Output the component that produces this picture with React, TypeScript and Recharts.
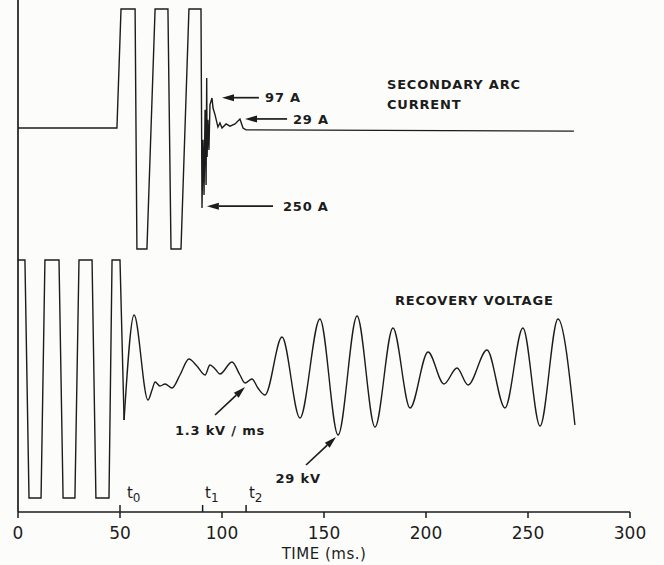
import { LineChart, Line, XAxis, YAxis, ReferenceLine, ReferenceDot, Label } from "recharts"

// time in ms, current in A
const currentTrace: [number, number][] = [
  [0, 0], [48.5, 0], [50.5, 381], [57.4, 381], [58.3, -387], [63.2, -387],
  [67.2, 381], [73.5, 381], [75.0, -387], [79.9, -387], [83.8, 381], [89.7, 381],
  [90.2, -256], [90.7, -38], [91.2, -214], [91.7, 58], [92.2, -182], [92.5, 160],
  [92.7, -93], [93.1, 26], [93.6, -70], [94.1, 74], [95.1, 96], [95.6, 64],
  [96.6, 42], [98.0, 3], [99.0, 16], [100, 0], [102, 13], [103.9, 6],
  [106.4, 13], [108.8, 29], [110.3, 0], [111.8, -6], [272.5, -10],
]

// recovery voltage, kV: clipped square wave before t0
const voltageSquare: [number, number][] = [
  [0, 58.5], [3.4, 58.5], [5.4, -60.5], [11.3, -60.5], [13.2, 58.5], [20.1, 58.5],
  [22.1, -60.5], [27.9, -60.5], [29.9, 58.5], [36.3, 58.5], [38.2, -60.5], [44.6, -60.5],
  [46.1, 58.5], [50.0, 58.5], [52.0, -21.5],
]

// recovery voltage after t0
const voltageWave: [number, number][] = [
  [52.0, -21.5], [56.9, 31], [63.7, -11.5], [65.7, -6.5], [67.2, -2.5], [69.6, -4.5],
  [72.1, -3.5], [75.5, -5.5], [79.4, 1], [83.8, 9], [87.7, 5.5], [91.7, 1],
  [94.1, 6], [96.6, 4], [99.0, 1.5], [104.9, 7.5], [108.8, 1], [111.3, -3],
  [114.7, -1], [117.6, -5.5], [121.1, -9], [129.4, 20], [138.2, -20.5], [148.0, 29],
  [156.9, -29], [166.2, 30.5], [175.0, -25], [183.8, 24.5], [192.2, -15.5], [201.0, 12.5],
  [208.8, -3.5], [215.2, 4.5], [220.6, -4], [229.9, 13.5], [238.7, -15.5], [247.5, 24.5],
  [255.9, -24.5], [264.7, 29], [273.0, -24],
]

const timeTicks = [0, 50, 100, 150, 200, 250, 300]
const markers = [
  { t: 50, name: "0", labelT: 53.4 },
  { t: 90.5, name: "1", labelT: 91.7 },
  { t: 111.8, name: "2", labelT: 113.2 },
]

const INK = "#1c1c1c"
const FONT = "'DejaVu Sans', sans-serif"

const toRows = (pts: [number, number][]) => pts.map(([t, v]) => ({ t, v }))

function Arrow(props: any) {
  const { x1, y1, x2, y2 } = props
  const ang = Math.atan2(y2 - y1, x2 - x1)
  const len = 12
  const half = 3.5
  const bx = x2 - len * Math.cos(ang)
  const by = y2 - len * Math.sin(ang)
  const px = -Math.sin(ang) * half
  const py = Math.cos(ang) * half
  return (
    <g>
      <line x1={x1} y1={y1} x2={bx} y2={by} stroke={INK} strokeWidth={1.7} />
      <polygon points={`${x2},${y2} ${bx + px},${by + py} ${bx - px},${by - py}`} fill={INK} />
    </g>
  )
}

const note = (text: string, anchor: "start" | "middle" = "start") => (p: any) => (
  <text
    x={p.cx}
    y={p.cy}
    dy="0.36em"
    textAnchor={anchor}
    fontFamily={FONT}
    fontSize={13}
    fontWeight="bold"
    letterSpacing={0.8}
    fill={INK}
  >
    {text}
  </text>
)

const subT = (n: string) => (p: any) => (
  <text x={p.cx} y={p.cy} dy="0.36em" fontFamily={FONT} fontSize={15} fill={INK}>
    t<tspan dy={4} fontSize={12}>{n}</tspan>
  </text>
)

export default function App() {
  return (
    <div style={{ position: "absolute", left: 0, top: 0, width: 664, height: 565, background: "#fcfcfb" }}>
      <LineChart width={664} height={565} margin={{ top: 0, right: 34, bottom: 13, left: 0 }}>
        <XAxis
          type="number"
          dataKey="t"
          domain={[0, 300]}
          ticks={timeTicks}
          interval={0}
          allowDataOverflow
          axisLine={{ stroke: INK, strokeWidth: 1.7 }}
          tickLine={{ stroke: INK, strokeWidth: 1.5 }}
          tickSize={6}
          tickMargin={9}
          height={40}
          tick={{ fill: INK, fontSize: 17, fontFamily: FONT }}
        >
          <Label
            value="TIME (ms.)"
            position="insideBottom"
            offset={-7}
            fill={INK}
            fontSize={15}
            fontFamily={FONT}
            letterSpacing={0.5}
          />
        </XAxis>
        <YAxis
          yAxisId="v"
          type="number"
          domain={[-67.5, 188.5]}
          width={18}
          tick={false}
          tickLine={false}
          axisLine={false}
          allowDataOverflow
        />
        <YAxis yAxisId="i" type="number" domain={[-1228.8, 409.6]} hide allowDataOverflow />

        {/* left frame line */}
        <ReferenceLine yAxisId="v" x={0} stroke={INK} strokeWidth={1.7} />

        <Line
          yAxisId="i"
          data={toRows(currentTrace)}
          dataKey="v"
          type="linear"
          stroke={INK}
          strokeWidth={1.4}
          dot={false}
          isAnimationActive={false}
        />
        <Line
          yAxisId="v"
          data={toRows(voltageSquare)}
          dataKey="v"
          type="linear"
          stroke={INK}
          strokeWidth={1.4}
          dot={false}
          isAnimationActive={false}
        />
        <Line
          yAxisId="v"
          data={toRows(voltageWave)}
          dataKey="v"
          type="monotone"
          stroke={INK}
          strokeWidth={1.4}
          dot={false}
          isAnimationActive={false}
        />

        {/* current annotations */}
        <ReferenceLine yAxisId="i" segment={[{ x: 118.1, y: 97 }, { x: 100, y: 97 }]} shape={Arrow} />
        <ReferenceLine yAxisId="i" segment={[{ x: 131.9, y: 29 }, { x: 111.3, y: 29 }]} shape={Arrow} />
        <ReferenceLine yAxisId="i" segment={[{ x: 125, y: -250 }, { x: 92.6, y: -250 }]} shape={Arrow} />
        <ReferenceDot yAxisId="i" x={121.1} y={97} shape={note("97 A")} />
        <ReferenceDot yAxisId="i" x={134.8} y={29} shape={note("29 A")} />
        <ReferenceDot yAxisId="i" x={129.9} y={-250} shape={note("250 A")} />
        <ReferenceDot yAxisId="i" x={180.9} y={140.8} shape={note("SECONDARY ARC")} />
        <ReferenceDot yAxisId="i" x={180.9} y={76.8} shape={note("CURRENT")} />

        {/* voltage annotations */}
        <ReferenceDot yAxisId="v" x={184.8} y={38.5} shape={note("RECOVERY VOLTAGE")} />
        <ReferenceLine yAxisId="v" segment={[{ x: 96.6, y: -19 }, { x: 111.3, y: -5 }]} shape={Arrow} />
        <ReferenceDot yAxisId="v" x={99} y={-26.5} shape={note("1.3 kV / ms", "middle")} />
        <ReferenceLine yAxisId="v" segment={[{ x: 141.2, y: -44 }, { x: 155.9, y: -30 }]} shape={Arrow} />
        <ReferenceDot yAxisId="v" x={137.3} y={-50.5} shape={note("29 kV", "middle")} />

        {markers.map((m) => (
          <ReferenceLine
            key={m.name}
            yAxisId="v"
            segment={[{ x: m.t, y: -67.5 }, { x: m.t, y: -64 }]}
            stroke={INK}
            strokeWidth={1.5}
          />
        ))}
        {markers.map((m) => (
          <ReferenceDot key={"l" + m.name} yAxisId="v" x={m.labelT} y={-58} shape={subT(m.name)} />
        ))}
      </LineChart>
    </div>
  )
}
